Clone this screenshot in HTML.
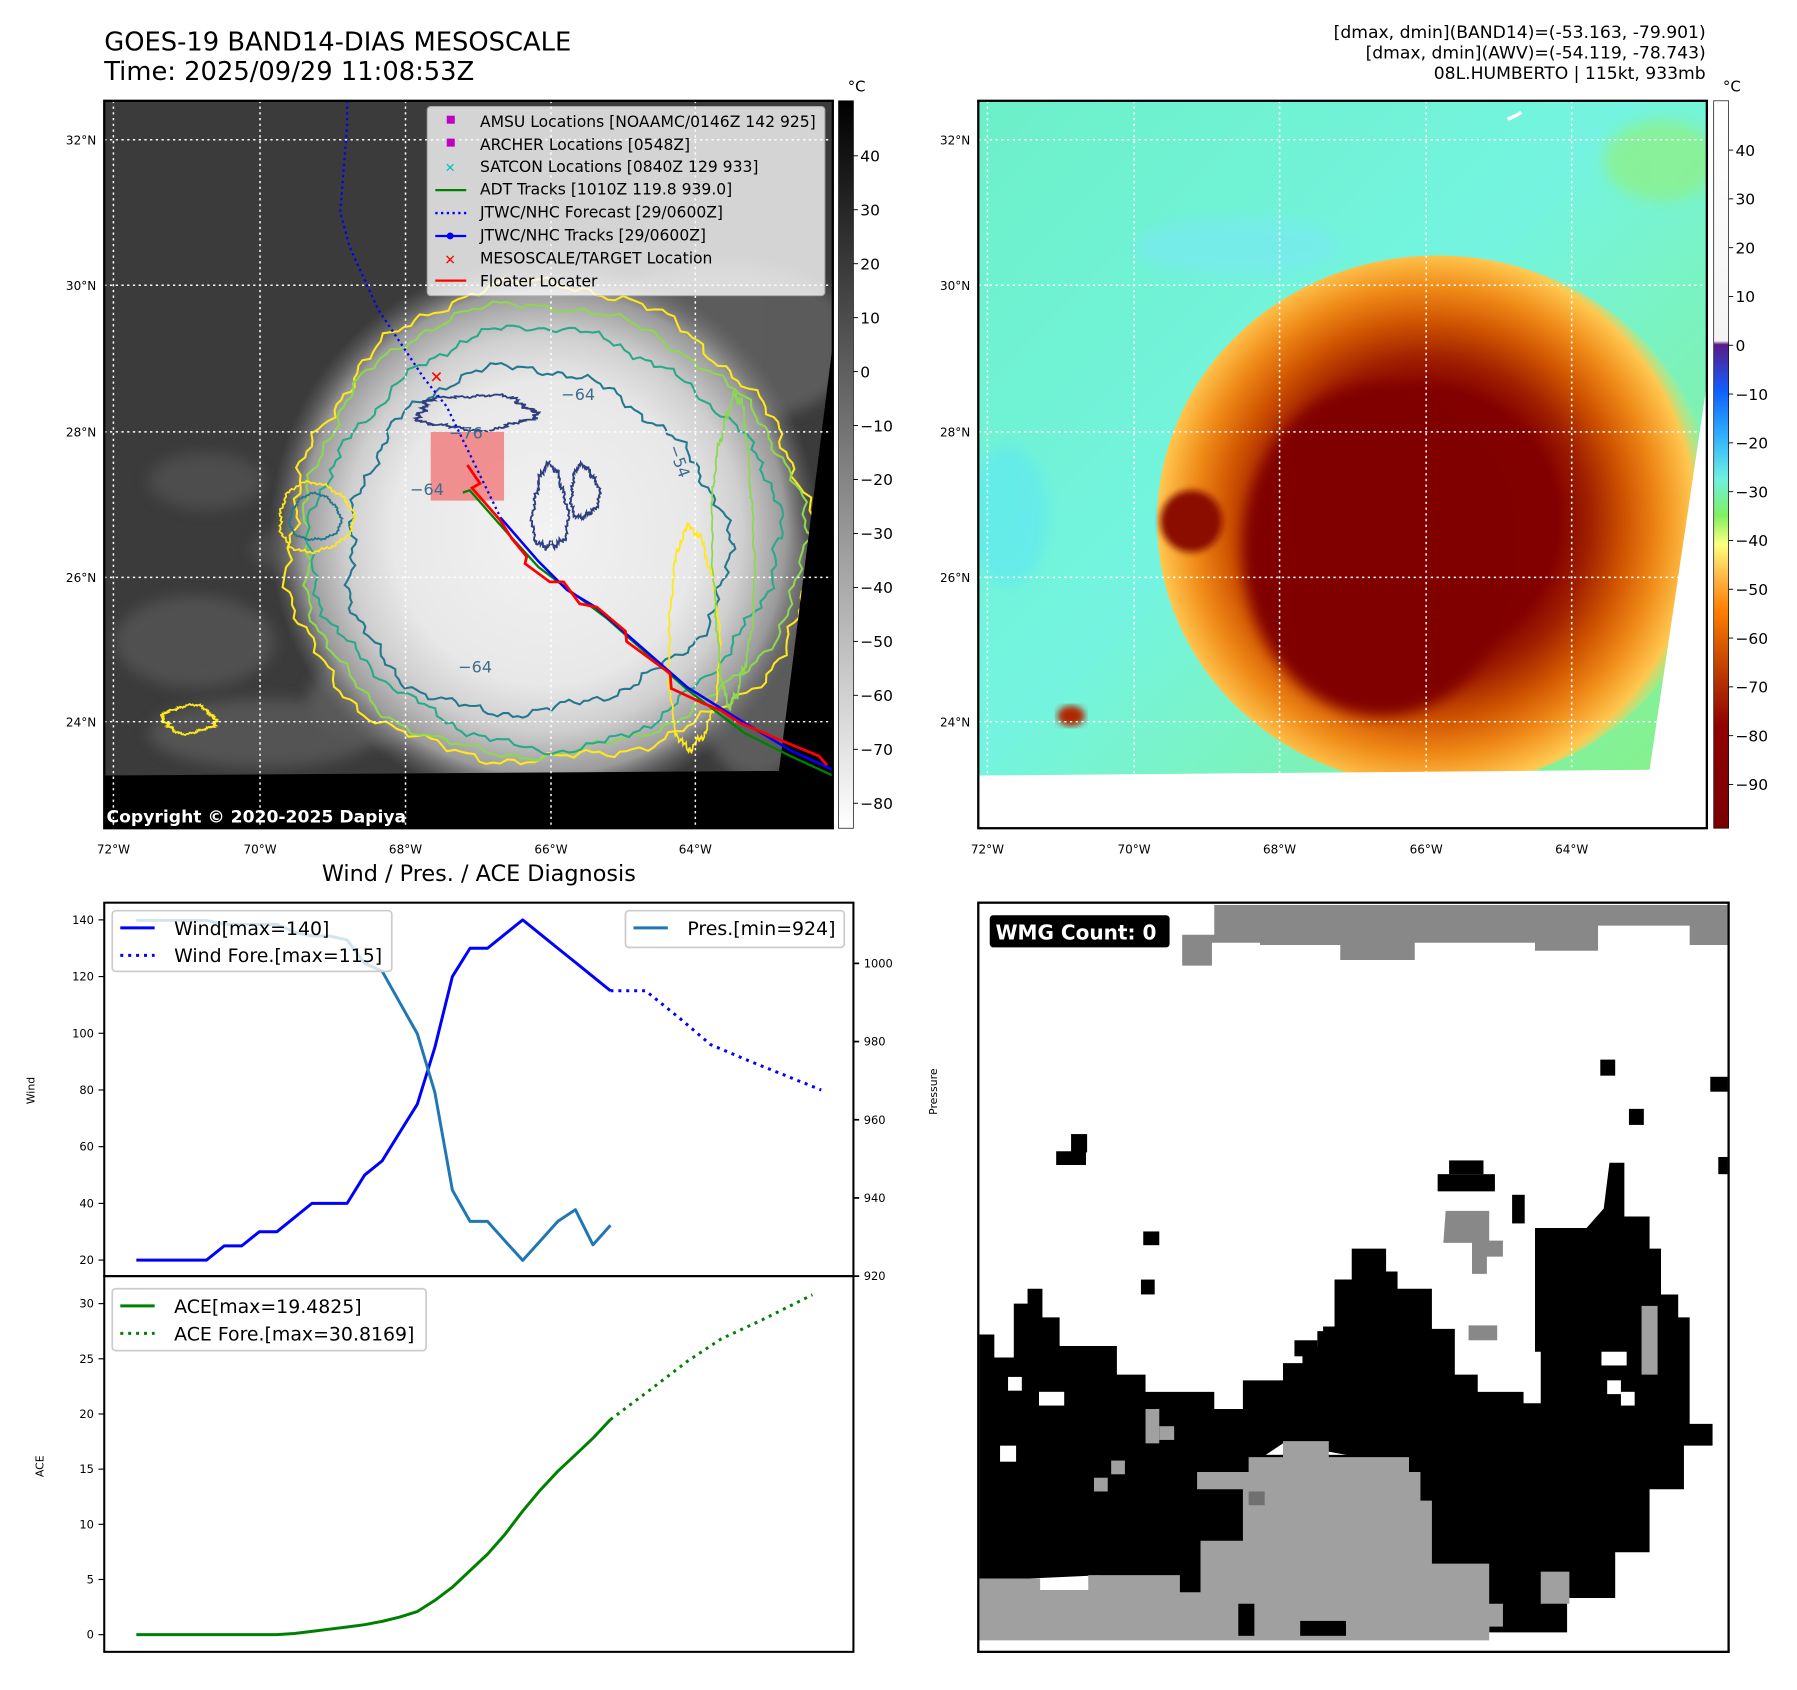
<!DOCTYPE html>
<html><head><meta charset="utf-8">
<style>
html,body{margin:0;padding:0;background:#fff;}
svg{display:block;font-family:"DejaVu Sans","Liberation Sans",sans-serif;}
</style></head>
<body>
<svg id="root" width="1797" height="1690" viewBox="0 0 1568.7 1475.3" xmlns="http://www.w3.org/2000/svg">
<defs>
  <clipPath id="clipL"><rect x="91" y="88" width="636" height="635"/></clipPath>
  <clipPath id="clipR"><rect x="854" y="88" width="636" height="635"/></clipPath>
  <radialGradient id="stormL" cx="475" cy="465" r="240" gradientUnits="userSpaceOnUse">
    <stop offset="0" stop-color="#f2f2f2"/><stop offset="0.55" stop-color="#e8e8e8"/>
    <stop offset="0.72" stop-color="#cfcfcf"/><stop offset="0.88" stop-color="#9a9a9a"/>
    <stop offset="1" stop-color="#707070" stop-opacity="0"/>
  </radialGradient>
  <radialGradient id="stormR" cx="1245" cy="455" r="255" gradientUnits="userSpaceOnUse">
    <stop offset="0" stop-color="#800000"/><stop offset="0.45" stop-color="#820000"/>
    <stop offset="0.56" stop-color="#a02000"/><stop offset="0.68" stop-color="#cf5300"/>
    <stop offset="0.8" stop-color="#f08a18"/><stop offset="0.92" stop-color="#ffc850"/>
    <stop offset="1" stop-color="#b0f080" stop-opacity="0"/>
  </radialGradient>
  <linearGradient id="bgR" x1="0" y1="0" x2="1" y2="1">
    <stop offset="0" stop-color="#6cf0c8"/><stop offset="0.45" stop-color="#74f4e0"/>
    <stop offset="1" stop-color="#88f080"/>
  </linearGradient>
  <linearGradient id="cbL" x1="0" y1="0" x2="0" y2="1">
    <stop offset="0" stop-color="#000"/><stop offset="1" stop-color="#fff"/>
  </linearGradient>
  <linearGradient id="cbR" x1="0" y1="0" x2="0" y2="1">
    <stop offset="0" stop-color="#ffffff"/><stop offset="0.33" stop-color="#f4f4f4"/>
    <stop offset="0.335" stop-color="#5a1a8a"/><stop offset="0.40" stop-color="#1060ff"/>
    <stop offset="0.46" stop-color="#30b0ff"/><stop offset="0.52" stop-color="#70f0e0"/>
    <stop offset="0.57" stop-color="#80f060"/><stop offset="0.61" stop-color="#ffff80"/>
    <stop offset="0.66" stop-color="#ffb040"/><stop offset="0.70" stop-color="#ff8000"/>
    <stop offset="0.78" stop-color="#c04000"/><stop offset="0.86" stop-color="#900000"/>
    <stop offset="1" stop-color="#7a0000"/>
  </linearGradient>
  <filter id="blur6"><feGaussianBlur stdDeviation="6"/></filter>
  <filter id="blur3"><feGaussianBlur stdDeviation="3"/></filter>
</defs>

<!-- Titles -->
<text x="91" y="44" font-size="22.5">GOES-19 BAND14-DIAS MESOSCALE</text>
<text x="91" y="70" font-size="22.5">Time: 2025/09/29 11:08:53Z</text>
<text x="1489" y="33" font-size="15" text-anchor="end">[dmax, dmin](BAND14)=(-53.163, -79.901)</text>
<text x="1489" y="51" font-size="15" text-anchor="end">[dmax, dmin](AWV)=(-54.119, -78.743)</text>
<text x="1489" y="69" font-size="15" text-anchor="end">08L.HUMBERTO | 115kt, 933mb</text>

<!-- LEFT MAP -->
<g clip-path="url(#clipL)">
  <rect x="91" y="88" width="636" height="635" fill="#3b3b3b"/>
  <g filter="url(#blur6)" opacity="0.7">
    <ellipse cx="180" cy="420" rx="50" ry="25" fill="#555"/><ellipse cx="170" cy="560" rx="70" ry="40" fill="#5a5a5a"/>
    <ellipse cx="260" cy="480" rx="40" ry="20" fill="#555"/><ellipse cx="230" cy="640" rx="100" ry="30" fill="#5e5e5e"/>
    <ellipse cx="330" cy="610" rx="60" ry="40" fill="#666"/>
    <ellipse cx="630" cy="300" rx="120" ry="70" fill="#6a6a6a"/><ellipse cx="660" cy="560" rx="60" ry="120" fill="#6a6a6a"/>
  </g>
  <circle cx="475" cy="465" r="240" fill="url(#stormL)"/>
  <g id="contours" fill="none" stroke-width="1.8"></g>
  <polygon points="91,677 680,673 727,300 727,723 91,723" fill="#000"/>
  <g stroke="#fff" stroke-width="1.3" stroke-dasharray="2,3" fill="none">
    <line x1="99" y1="88" x2="99" y2="723"/><line x1="227" y1="88" x2="227" y2="723"/>
    <line x1="354" y1="88" x2="354" y2="723"/><line x1="481" y1="88" x2="481" y2="723"/>
    <line x1="607" y1="88" x2="607" y2="723"/>
    <line x1="91" y1="122" x2="727" y2="122"/><line x1="91" y1="249" x2="727" y2="249"/>
    <line x1="91" y1="377" x2="727" y2="377"/><line x1="91" y1="504" x2="727" y2="504"/>
    <line x1="91" y1="630" x2="727" y2="630"/>
  </g>
  <rect x="376" y="377" width="64" height="60" fill="#f07070" opacity="0.75"/>
  <g font-size="14" fill="#3d6c8c">
    <text x="392" y="383">−76</text><text x="358" y="432">−64</text><text x="490" y="349">−64</text>
    <text x="400" y="587">−64</text><text x="580" y="395" transform="rotate(70 585 395)">−54</text>
  </g>
  <polyline points="303,88 303,110 297,185 305,215 330,270 350,300 370,330 390,355 437,452" fill="none" stroke="#0000ff" stroke-width="2" stroke-dasharray="2,3"/>
  <polyline points="404,430 410,428 440,462 470,495 530,540 600,602 650,640 690,660 727,677" fill="none" stroke="#008000" stroke-width="2"/>
  <polyline points="437,452 470,490 495,515 520,530 560,565 600,600 640,625 690,655 727,672" fill="none" stroke="#0000ff" stroke-width="2.2"/>
  <polyline points="408,406 419,422 412,426 436.5,454 446.7,470 459.8,486 458.3,492 480,508 492,508 506,527 521,530 546,551 547,560 585,588 586,601 614,614 629,620 646,631 681,646 715,660 722,668" fill="none" stroke="#ff0000" stroke-width="2.4"/>
  <text x="381" y="334" font-size="14" fill="#ff0000" text-anchor="middle" font-weight="bold">✕</text>
  <rect x="373" y="93" width="347" height="165" rx="3" fill="#fff" opacity="0.78" stroke="#ccc"/>
  <g font-size="13.6" fill="#000">
    <rect x="390" y="101" width="7" height="7" fill="#c000c0"/><text x="419" y="111">AMSU Locations [NOAAMC/0146Z 142 925]</text>
    <rect x="390" y="121" width="7" height="7" fill="#c000c0"/><text x="419" y="131">ARCHER Locations [0548Z]</text>
    <text x="393" y="150" fill="#00c0c0" font-size="11" text-anchor="middle">✕</text><text x="419" y="150">SATCON Locations [0840Z 129 933]</text>
    <line x1="380" y1="166" x2="407" y2="166" stroke="#008000" stroke-width="2"/><text x="419" y="170">ADT Tracks [1010Z 119.8 939.0]</text>
    <line x1="380" y1="186" x2="407" y2="186" stroke="#0000ff" stroke-width="2" stroke-dasharray="2,3"/><text x="419" y="190">JTWC/NHC Forecast [29/0600Z]</text>
    <line x1="380" y1="206" x2="407" y2="206" stroke="#0000ff" stroke-width="2"/><circle cx="393" cy="206" r="3" fill="#0000ff"/><text x="419" y="210">JTWC/NHC Tracks [29/0600Z]</text>
    <text x="393" y="231" fill="#ff0000" font-size="12" text-anchor="middle" font-weight="bold">✕</text><text x="419" y="230">MESOSCALE/TARGET Location</text>
    <line x1="380" y1="245" x2="407" y2="245" stroke="#ff0000" stroke-width="2"/><text x="419" y="250">Floater Locater</text>
  </g>
  <text x="93" y="718" font-size="15" font-weight="bold" fill="#fff">Copyright © 2020-2025 Dapiya</text>
</g>
<rect x="91" y="88" width="636" height="635" fill="none" stroke="#000" stroke-width="2"/>

<g font-size="10.5" fill="#000">
  <text x="84" y="126" text-anchor="end">32°N</text><text x="84" y="253" text-anchor="end">30°N</text>
  <text x="84" y="381" text-anchor="end">28°N</text><text x="84" y="508" text-anchor="end">26°N</text>
  <text x="84" y="634" text-anchor="end">24°N</text>
  <text x="99" y="745" text-anchor="middle">72°W</text><text x="227" y="745" text-anchor="middle">70°W</text>
  <text x="354" y="745" text-anchor="middle">68°W</text><text x="481" y="745" text-anchor="middle">66°W</text>
  <text x="607" y="745" text-anchor="middle">64°W</text>
</g>
<rect x="732" y="88" width="13" height="635" fill="url(#cbL)" stroke="#000" stroke-width="0.6"/>
<text x="740" y="80" font-size="13">°C</text>
<g id="cbLticks" font-size="13.5"></g>

<!-- RIGHT MAP -->
<g clip-path="url(#clipR)">
  <rect x="854" y="88" width="636" height="635" fill="url(#bgR)"/>
  <g filter="url(#blur6)" opacity="0.7">
    <ellipse cx="880" cy="450" rx="35" ry="60" fill="#60e8f0"/>
    <ellipse cx="1080" cy="215" rx="90" ry="25" fill="#78eaf0"/>
    <ellipse cx="1450" cy="140" rx="50" ry="35" fill="#90f080"/>
  </g>
  <ellipse cx="1255" cy="455" rx="245" ry="232" fill="url(#stormR)"/>
  <ellipse cx="1205" cy="480" rx="120" ry="145" fill="#800000" filter="url(#blur6)"/>
  <circle cx="1040" cy="455" r="27" fill="#8a1000" filter="url(#blur3)"/>
  <ellipse cx="935" cy="625" rx="12" ry="9" fill="#b02800" filter="url(#blur3)"/>
  <polygon points="854,677 1440,672 1490,335 1490,723 854,723" fill="#fff"/>
  <path d="M1316,104 q6,-2 12,-6" stroke="#fff" stroke-width="3" fill="none"/>
  <g stroke="#fff" stroke-width="1.3" stroke-dasharray="2,3" fill="none">
    <line x1="862" y1="88" x2="862" y2="723"/><line x1="990" y1="88" x2="990" y2="723"/>
    <line x1="1117" y1="88" x2="1117" y2="723"/><line x1="1245" y1="88" x2="1245" y2="723"/>
    <line x1="1372" y1="88" x2="1372" y2="723"/>
    <line x1="854" y1="122" x2="1490" y2="122"/><line x1="854" y1="249" x2="1490" y2="249"/>
    <line x1="854" y1="377" x2="1490" y2="377"/><line x1="854" y1="504" x2="1490" y2="504"/>
    <line x1="854" y1="630" x2="1490" y2="630"/>
  </g>
</g>
<rect x="854" y="88" width="636" height="635" fill="none" stroke="#000" stroke-width="2"/>
<g font-size="10.5" fill="#000">
  <text x="847" y="126" text-anchor="end">32°N</text><text x="847" y="253" text-anchor="end">30°N</text>
  <text x="847" y="381" text-anchor="end">28°N</text><text x="847" y="508" text-anchor="end">26°N</text>
  <text x="847" y="634" text-anchor="end">24°N</text>
  <text x="862" y="745" text-anchor="middle">72°W</text><text x="990" y="745" text-anchor="middle">70°W</text>
  <text x="1117" y="745" text-anchor="middle">68°W</text><text x="1245" y="745" text-anchor="middle">66°W</text>
  <text x="1372" y="745" text-anchor="middle">64°W</text>
</g>
<rect x="1496" y="88" width="13" height="635" fill="url(#cbR)" stroke="#000" stroke-width="0.6"/>
<text x="1504" y="80" font-size="13">°C</text>
<g id="cbRticks" font-size="13.5"></g>

<!-- WMG panel -->
<g>
  <rect x="854" y="788" width="655" height="654" fill="#fff"/>
  <g fill="#888">
    <polygon points="1060,790 1508,790 1508,825 1475,825 1475,808 1395,808 1395,830 1340,830 1340,823 1235,823 1235,838 1170,838 1170,825 1100,825 1100,823 1058,823 1058,843 1032,843 1032,816 1060,816"/>
    <polygon points="1262,1057 1300,1057 1300,1083 1312,1083 1312,1097 1298,1097 1298,1112 1285,1112 1285,1085 1260,1085"/>
    <rect x="1282" y="1157" width="25" height="13"/>
  </g>
  <polygon fill="#000" points="855,1205 855,1165 868,1165 868,1185 885,1185 885,1138 897,1138 897,1125 910,1125 910,1150 925,1150 925,1175 975,1175 975,1200 1000,1200 1000,1215 1060,1215 1060,1230 1085,1230 1085,1205 1120,1205 1120,1190 1137,1190 1137,1176 1150,1176 1150,1162 1165,1162 1165,1117 1180,1117 1180,1090 1210,1090 1210,1110 1220,1110 1220,1125 1250,1125 1250,1160 1270,1160 1270,1200 1290,1200 1290,1215 1330,1215 1330,1225 1345,1225 1345,1180 1340,1180 1340,1072 1385,1072 1400,1055 1405,1015 1418,1015 1418,1062 1440,1062 1440,1090 1450,1090 1450,1130 1465,1130 1465,1150 1475,1150 1475,1243 1495,1243 1495,1262 1470,1262 1470,1300 1440,1300 1440,1355 1410,1355 1410,1395 1368,1395 1368,1425 1300,1425 1300,1400 1250,1360 1250,1320 1230,1280 1120,1260 1090,1280 1045,1300 1048,1340 1030,1372 855,1380"/>
  <rect x="960" y="1270" width="300" height="130" fill="#000"/>
  <g fill="#000">
    <rect x="922" y="1005" width="26" height="12"/><rect x="935" y="990" width="14" height="16"/>
    <rect x="998" y="1075" width="14" height="12"/><rect x="996" y="1117" width="12" height="13"/>
    <rect x="1397" y="925" width="13" height="14"/><rect x="1422" y="968" width="13" height="14"/>
    <rect x="1493" y="940" width="15" height="13"/><rect x="1500" y="1010" width="8" height="15"/>
    <rect x="1255" y="1025" width="50" height="15"/><rect x="1265" y="1013" width="30" height="12"/>
    <rect x="1320" y="1043" width="11" height="25"/><rect x="1130" y="1170" width="20" height="14"/>
    <rect x="1155" y="1158" width="14" height="14"/>
  </g>
  <polygon fill="#a0a0a0" points="855,1378 908,1378 908,1388 950,1388 950,1375 1030,1375 1030,1390 1048,1390 1048,1345 1085,1345 1085,1300 1045,1300 1045,1285 1090,1285 1090,1272 1120,1272 1120,1258 1160,1258 1160,1272 1230,1272 1230,1285 1240,1285 1240,1310 1250,1310 1250,1365 1300,1365 1300,1400 1312,1400 1312,1420 1300,1420 1300,1432 855,1432"/>
  <g fill="#000">
    <rect x="1135" y="1415" width="40" height="13"/><rect x="1081" y="1400" width="14" height="28"/>
  </g>
  <g fill="#a0a0a0">
    <rect x="1000" y="1230" width="12" height="30"/><rect x="1012" y="1245" width="13" height="12"/>
    <rect x="970" y="1275" width="12" height="12"/><rect x="955" y="1290" width="12" height="12"/>
    <rect x="1345" y="1372" width="25" height="28"/><rect x="1433" y="1140" width="14" height="60"/>
  </g>
  <rect x="1090" y="1302" width="14" height="12" fill="#707070"/>
  <g fill="#fff">
    <rect x="873" y="1262" width="14" height="14"/><rect x="907" y="1215" width="22" height="12"/>
    <rect x="880" y="1202" width="12" height="12"/><rect x="1398" y="1180" width="22" height="12"/>
    <rect x="1403" y="1205" width="12" height="12"/><rect x="1415" y="1215" width="12" height="12"/>
  </g>
  <rect x="854" y="788" width="655" height="654" fill="none" stroke="#000" stroke-width="2"/>
  <rect x="864" y="799" width="157" height="28" rx="3" fill="#000"/>
  <text x="869" y="820" font-size="17.5" font-weight="bold" fill="#fff">WMG Count: 0</text>
</g>

<!-- BOTTOM-LEFT CHART -->
<text x="418" y="769" font-size="19.5" text-anchor="middle">Wind / Pres. / ACE Diagnosis</text>
<g id="chart"></g>
</svg>

<script>
// ---- chart data ----
const windIdx = [0,1,2,3,4,5,6,7,8,9,10,11,12,13,14,15,16,17,18,19,20,21,22,23,24,25,26,27];
const windVals = [20,20,20,20,20,25,25,30,30,35,40,40,40,50,55,65,75,95,120,130,130,135,140,135,130,125,120,115];
const windForeIdx = [27,29,31,32.7,35,37,39];
const windForeVals = [115,115,105,96,90,85,80];
const presIdx = [0,1,2,3,4,5,6,7,8,9,10,11,12,13,14,15,16,17,18,19,20,21,22,23,24,25,26,27];
const presVals = [1011,1011,1011,1011,1011,1010,1010,1010,1010,1008,1007,1007,1006,1000,998,990,982,967,942,934,934,929,924,929,934,937,928,933];
const aceIdx = [0,2,4,6,8,9,10,11,12,13,14,15,16,17,18,19,20,21,22,23,24,25,26,27];
const aceVals = [0,0,0,0,0,0.1,0.3,0.5,0.7,0.9,1.2,1.6,2.1,3.1,4.3,5.8,7.3,9.1,11.2,13.1,14.8,16.3,17.8,19.5];
const aceForeIdx = [27,29.1,31.4,33.3,35.6,38.5];
const aceForeVals = [19.5,22.0,24.8,26.8,28.5,30.8];
const windTicks = [20,40,60,80,100,120,140];
const presTicks = [920,940,960,980,1000];
const aceTicks = [0,5,10,15,20,25,30];
const cbLeftTicks = [40,30,20,10,0,-10,-20,-30,-40,-50,-60,-70,-80];
const cbRightTicks = [40,30,20,10,0,-10,-20,-30,-40,-50,-60,-70,-80,-90];

const NS = 'http://www.w3.org/2000/svg';
function xs(i){ return 119 + i*15.33; }
function yW(v){ return 803 + (140 - v)*2.475; }
function yP(p){ return 841 + (1000 - p)*3.4125; }
function yA(v){ return 1427 - v*9.633; }
function yCbL(v){ return 136 + (40 - v)*4.71; }
function yCbR(v){ return 131 + (40 - v)*4.26; }

function mk(tag, attrs, parent){
  const e = document.createElementNS(NS, tag);
  for (const k in attrs) e.setAttribute(k, attrs[k]);
  parent.appendChild(e);
  return e;
}
function pts(idx, vals, yf){ return idx.map((d,i)=> xs(d).toFixed(1)+','+yf(vals[i]).toFixed(1)).join(' '); }

const chart = document.getElementById('chart');
mk('rect',{x:91,y:788,width:654,height:654,fill:'#fff'},chart);

windTicks.forEach(v=>{
  const y=yW(v);
  const t=mk('line',{x1:86,y1:y,x2:91,y2:y,stroke:'#000','stroke-width':1},chart);
  
  
  const l=mk('text',{x:82,y:y+3.5,'font-size':10,'text-anchor':'end'},chart); l.textContent=v;
  
  
});
presTicks.forEach(v=>{
  const y=yP(v);
  mk('line',{x1:745,y1:y,x2:750,y2:y,stroke:'#000','stroke-width':1.5},chart);
  const l=mk('text',{x:754,y:y+3.5,'font-size':10},chart); l.textContent=v;
  
  
});
aceTicks.forEach(v=>{
  const y=yA(v);
  mk('line',{x1:86,y1:y,x2:91,y2:y,stroke:'#000','stroke-width':1},chart);
  const l=mk('text',{x:82,y:y+3.5,'font-size':10,'text-anchor':'end'},chart); l.textContent=v;
  
  
});
let al=mk('text',{x:30,y:952,'font-size':9.5,'text-anchor':'middle',transform:'rotate(-90 30 952)'},chart); al.textContent='Wind';


al=mk('text',{x:818,y:953,'font-size':9.5,'text-anchor':'middle',transform:'rotate(-90 818 953)'},chart); al.textContent='Pressure';


al=mk('text',{x:38,y:1280,'font-size':9.5,'text-anchor':'middle',transform:'rotate(-90 38 1280)'},chart); al.textContent='ACE';



let s;
s=mk('polyline',{points:pts(windIdx,windVals,yW),fill:'none',stroke:'#0000ff','stroke-width':2.6,'stroke-linejoin':'round'},chart);


s=mk('polyline',{points:pts(windForeIdx,windForeVals,yW),fill:'none',stroke:'#0000ff','stroke-width':2.6,'stroke-dasharray':'2.6,4.3'},chart);


s=mk('polyline',{points:pts(presIdx,presVals,yP),fill:'none',stroke:'#1f77b4','stroke-width':2.6,'stroke-linejoin':'round'},chart);


s=mk('polyline',{points:pts(aceIdx,aceVals,yA),fill:'none',stroke:'#008000','stroke-width':2.6,'stroke-linejoin':'round'},chart);


s=mk('polyline',{points:pts(aceForeIdx,aceForeVals,yA),fill:'none',stroke:'#008000','stroke-width':2.6,'stroke-dasharray':'2.6,4.3'},chart);



mk('rect',{x:91,y:788,width:654,height:326,fill:'none',stroke:'#000','stroke-width':1.8},chart);
mk('rect',{x:91,y:1114,width:654,height:328,fill:'none',stroke:'#000','stroke-width':1.8},chart);

function legend(x,y,w,h,items,name){
  const g=mk('g',{},chart);
  
  
  mk('rect',{x:x,y:y,width:w,height:h,rx:3,fill:'#fff','fill-opacity':0.8,stroke:'#ccc','stroke-width':1.5},g);
  items.forEach((it,i)=>{
    const yy=y+15+i*24;
    const ln=mk('line',{x1:x+7,y1:yy,x2:x+37,y2:yy,stroke:it.c,'stroke-width':2.6},g);
    if(it.d) ln.setAttribute('stroke-dasharray','2.6,4.3');
    const t=mk('text',{x:x+54,y:yy+6,'font-size':16.5},g); t.textContent=it.t;
  });
}
legend(98,795,244,53,[{c:'#0000ff',t:'Wind[max=140]'},{c:'#0000ff',t:'Wind Fore.[max=115]',d:1}],'wind-legend');
legend(546,795,191,32,[{c:'#1f77b4',t:'Pres.[min=924]'}],'pressure-legend');
legend(98,1125,274,54,[{c:'#008000',t:'ACE[max=19.4825]'},{c:'#008000',t:'ACE Fore.[max=30.8169]',d:1}],'ace-legend');

const cbl=document.getElementById('cbLticks');
cbLeftTicks.forEach(v=>{
  const y=yCbL(v);
  mk('line',{x1:745,y1:y,x2:749,y2:y,stroke:'#000','stroke-width':0.8},cbl);
  const t=mk('text',{x:751,y:y+5},cbl); t.textContent=(v<0?'−':'')+Math.abs(v);
  
  
});
const cbr=document.getElementById('cbRticks');
cbRightTicks.forEach(v=>{
  const y=yCbR(v);
  mk('line',{x1:1509,y1:y,x2:1513,y2:y,stroke:'#000','stroke-width':0.8},cbr);
  const t=mk('text',{x:1515,y:y+5},cbr); t.textContent=(v<0?'−':'')+Math.abs(v);
  
  
});

const cg=document.getElementById('contours');
function blob(cx,cy,rx,ry,amp,k,ph,color,w){
  let d='';
  for(let i=0;i<=240;i++){
    const a=i/240*Math.PI*2;
    const r=1+amp*(Math.sin(k*a+ph)*0.6+Math.sin(k*3.7*a+ph*2)*0.3+Math.sin(k*13*a+ph)*0.2+Math.sin(k*29*a)*0.12);
    const x=cx+rx*r*Math.cos(a), y=cy+ry*r*Math.sin(a);
    d+=(i?'L':'M')+x.toFixed(1)+','+y.toFixed(1);
  }
  mk('path',{d:d+'Z',stroke:color,'stroke-width':w||1.8},cg);
}
blob(478,462,228,208,0.06,3,0.4,'#ffe81a',1.8);
blob(478,465,218,196,0.05,3,1.1,'#8cd850',1.8);
blob(475,470,200,180,0.05,4,2.1,'#2aa88a',1.8);
blob(465,475,165,150,0.07,3,0.9,'#24788e',1.8);
blob(275,452,22,20,0.1,3,0.2,'#24788e',1.5);
blob(275,452,32,30,0.1,3,1.2,'#ffe81a',1.5);
blob(415,360,50,15,0.15,5,0.7,'#2e3f80',1.6);
blob(480,445,15,35,0.2,3,0.2,'#2e3f80',1.6);
blob(510,430,12,22,0.2,3,1.0,'#2e3f80',1.6);
blob(165,628,22,12,0.15,4,0.5,'#ffe81a',1.5);
blob(605,560,22,95,0.1,3,0.9,'#ffe81a',1.5);
blob(640,480,18,130,0.1,4,0.3,'#8cd850',1.5);
</script>
</body></html>
